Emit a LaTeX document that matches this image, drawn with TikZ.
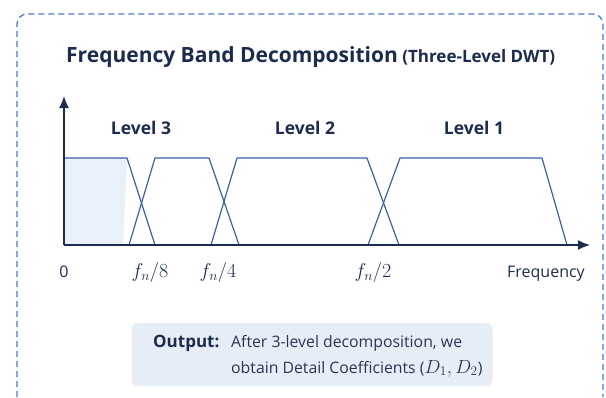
\documentclass[tikz,border=0pt]{standalone}
\usepackage{fix-cm}
\usepackage{fontspec}
\setmainfont{Open Sans}
\usetikzlibrary{arrows.meta, positioning}

\definecolor{navy}{HTML}{1C2B4E}
\definecolor{bandblue}{HTML}{3D5FA3}
\definecolor{frameblue}{HTML}{4C78CC}
\definecolor{lowfill}{HTML}{E8F0FA}
\definecolor{boxfill}{HTML}{E7EDF6}
\definecolor{bodytext}{HTML}{2B3550}

\tikzset{
  band/.style={bandblue, line width=1.2pt, line join=round},
  axis/.style={navy, line width=1.5pt, -{Latex[length=12pt,width=10pt]}},
  lvl/.style={font=\bfseries\fontsize{17.5}{20}\selectfont, text=navy},
  tick/.style={font=\fontsize{16}{19}\selectfont, text=navy, anchor=base},
  mtick/.style={tick, font=\fontsize{20}{23}\selectfont},
  body/.style={font=\fontsize{15.8}{19}\selectfont, text=bodytext, anchor=base west, inner sep=0pt},
}

\begin{document}
\begin{tikzpicture}[x=1pt, y=-1pt]
    \useasboundingbox (0,0) rectangle (606,397);

    % Frame
    \draw [frameblue, line width=1.2pt, dash pattern=on 6pt off 4pt, rounded corners=10pt]
        (17,397) -- (17,14) -- (603,14) -- (603,397);

    % Title
    \node [font=\bfseries\fontsize{21}{24}\selectfont, text=navy, anchor=base west, inner sep=0pt] (title) at (66,62) {Frequency Band Decomposition};
    \node [font=\bfseries\fontsize{17}{20}\selectfont, text=navy, anchor=base west, inner sep=0pt] (subtitle) at ([xshift=4pt]title.base east) {(Three-Level DWT)};

    % Low-pass part
    \fill [lowfill] (64,158) -- (127,158) -- (123,245) -- (64,245) -- cycle;

    % Bands
    \draw [band] (64,158) -- (127,158) -- (155,245);
    \draw [band] (129,245) -- (155,158) -- (209,158) -- (239,245);
    \draw [band] (211,245) -- (237,158) -- (367,158) -- (399,245);
    \draw [band] (368,245) -- (400,158) -- (542,158) -- (567,245);

    % Axes
    \coordinate (origin) at (64,245);
    \coordinate (ytop) at (64,96);
    \coordinate (xend) at (590,245);
    \draw [axis] (origin) -- (ytop);
    \draw [axis] (origin) -- (xend);

    % Levels
    \node [lvl] (lev3) at (141,128) {Level 3};
    \node [lvl] (lev2) at (305,128) {Level 2};
    \node [lvl] (lev1) at (474,128) {Level 1};

    % Frequency marks
    \node [tick] (zero) at (64,277) {0};
    \node [mtick] (f8) at (150,277) {$f_n/8$};
    \node [mtick] (f4) at (218,277) {$f_n/4$};
    \node [mtick] (f2) at (373,277) {$f_n/2$};
    \node [tick] (freq) at (546,277) {Frequency};

    % Output box
    \node [fill=boxfill, rounded corners=6pt, minimum width=361pt, minimum height=63pt] (outbox) at (312,354.5) {};
    \node [body, font=\bfseries\fontsize{17}{20}\selectfont, text=navy] (outlbl) at (153,347) {Output:};
    \node [body] (line1) at (231,347) {After 3-level decomposition, we};
    \node [body] (line2) at (231,373) {obtain Detail Coefficients ({\fontsize{19}{20}\selectfont$D_1, D_2$})};
\end{tikzpicture}
\end{document}
